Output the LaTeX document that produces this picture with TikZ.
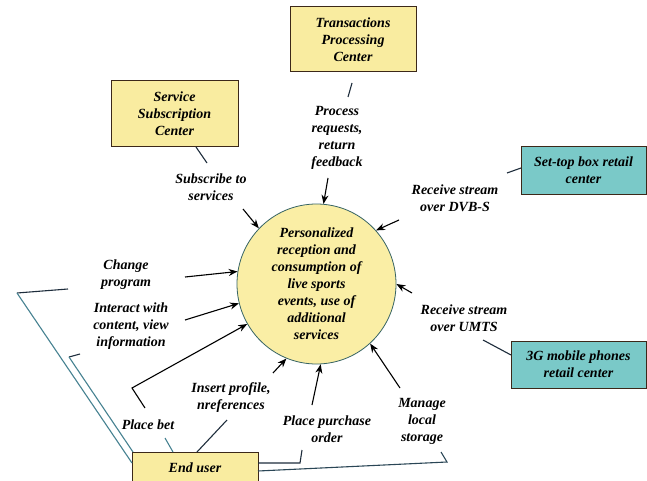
\documentclass[tikz,border=0pt]{standalone}
\usepackage{fontspec}
\setmainfont{Liberation Serif}
\usetikzlibrary{shapes.geometric,arrows.meta}
\definecolor{boxyellow}{RGB}{249,236,160}
\definecolor{circfill}{RGB}{250,238,165}
\definecolor{boxteal}{RGB}{122,201,200}
\definecolor{boxborder}{RGB}{60,40,25}
\definecolor{circborder}{RGB}{55,100,100}
\definecolor{tealline}{RGB}{70,130,145}
\definecolor{darkline}{RGB}{30,45,60}
\newcommand\labfont{\fontsize{14}{17}\selectfont\bfseries\itshape}
\tikzset{
  ybox/.style={draw=boxborder, line width=1pt, fill=boxyellow, align=center, font=\labfont, inner sep=2pt},
  tbox/.style={draw=boxborder, line width=1pt, fill=boxteal, align=center, font=\labfont, inner sep=2pt},
  lab/.style={align=center, font=\labfont, text=black, inner sep=1pt},
  arr/.style={-{Stealth[length=9pt,width=7pt]}, line width=1.1pt, draw=black},
  stub/.style={line width=1.1pt, draw=darkline},
  tline/.style={line width=1.1pt, draw=tealline},
}
\begin{document}
\begin{tikzpicture}[x=1pt,y=-1pt]
\fill[white] (0,0) rectangle (647,481);
\useasboundingbox (0,0) rectangle (647,481);

% boxes
\node[ybox, minimum width=126pt, minimum height=65pt] (tpc) at (353,39.5) {Transactions\\Processing\\Center};
\node[ybox, minimum width=127pt, minimum height=66pt] (ssc) at (174.5,114) {Service\\Subscription\\Center};
\node[tbox, minimum width=125pt, minimum height=47pt] (stb) at (583.5,170.5) {Set-top box retail\\center};
\node[tbox, minimum width=135pt, minimum height=47pt] (mob) at (578.5,364.5) {3G mobile phones\\retail center};
\node[ybox, minimum width=126pt, minimum height=32pt] (eu) at (195,468) {End user};

% central process
\node[ellipse, draw=circborder, line width=0.8pt, fill=circfill, minimum width=159pt, minimum height=160pt, inner sep=0pt, align=center, font=\labfont] (circ) at (316.5,284)
  {Personalized\\reception and\\consumption of\\live sports\\events, use of\\additional\\services};

% labels
\node[lab] (lsub) at (211,187) {Subscribe to\\services};
\node[lab] (lproc) at (337,138) {Process\\requests,\\return\\feedback};
\node[lab] (ldvb) at (455,198) {Receive stream\\over DVB-S};
\node[lab] (lumts) at (464,318) {Receive stream\\over UMTS};
\node[lab] (lchg) at (126,275) {Change\\program};
\node[lab] (lint) at (131,326) {Interact with\\content, view\\information};
\node[lab] (lbet) at (148,425) {Place bet};
\node[lab] (lins) at (231,398) {Insert profile,\\nreferences};
\node[lab] (lpur) at (327,429) {Place purchase\\order};
\node[lab] (lman) at (422,421) {Manage\\local\\storage};

% coordinates
\coordinate (s1a) at (196,147); \coordinate (s1b) at (207,163);
\coordinate (a1) at (243,209);
\coordinate (s2a) at (352,83); \coordinate (s2b) at (348,97);
\coordinate (a2) at (328,178);
\coordinate (s3a) at (507,173); \coordinate (s3b) at (521,168);
\coordinate (a3) at (399,220);
\coordinate (s4a) at (483,340); \coordinate (s4b) at (511,355);
\coordinate (a4) at (412,293);
\coordinate (a5) at (185,277);
\coordinate (c5a) at (68,289); \coordinate (c5b) at (17,293); \coordinate (c5c) at (132,463);
\coordinate (a6) at (185,320);
\coordinate (c6a) at (80,354); \coordinate (c6b) at (69,357); \coordinate (c6c) at (133,452);
\coordinate (c7a) at (173,452); \coordinate (c7b) at (165,438);
\coordinate (a7) at (145,408); \coordinate (a7k) at (132,388);
\coordinate (c8a) at (197,452); \coordinate (c8b) at (227,420);
\coordinate (a8) at (273,373);
\coordinate (a9) at (312,405);
\coordinate (c9a) at (258,463); \coordinate (c9k) at (300,463); \coordinate (c9b) at (302,450);
\coordinate (a10) at (400,388);
\coordinate (c10a) at (258,471); \coordinate (c10k) at (447,462); \coordinate (c10b) at (441,452);

% connectors
\draw[stub] (s1a) -- (s1b);
\draw[arr] (a1) -- (circ.136.5);
\draw[stub] (s2a) -- (s2b);
\draw[arr] (a2) -- (circ.85.6);
\draw[stub] (s3a) -- (s3b);
\draw[arr] (a3) -- (circ.42.5);
\draw[stub] (s4a) -- (s4b);
\draw[arr] (a4) -- (circ.0.5);
\draw[arr] (a5) -- (circ.171.8);
\draw[stub] (c5a) -- (c5b);
\draw[tline] (c5b) -- (c5c);
\draw[arr] (a6) -- (circ.194.3);
\draw[stub] (c6a) -- (c6b);
\draw[tline] (c6b) -- (c6c);
\draw[tline] (c7a) -- (c7b);
\draw[arr] (a7) -- (a7k) -- (circ.210);
\draw[stub] (c8a) -- (c8b);
\draw[arr] (a8) -- (circ.248.8);
\draw[arr] (a9) -- (circ.273.5);
\draw[stub] (c9a) -- (c9k) -- (c9b);
\draw[arr] (a10) -- (circ.312.6);
\draw[tline, draw=darkline!70!tealline] (c10a) -- (c10k) -- (c10b);
\end{tikzpicture}
\end{document}
